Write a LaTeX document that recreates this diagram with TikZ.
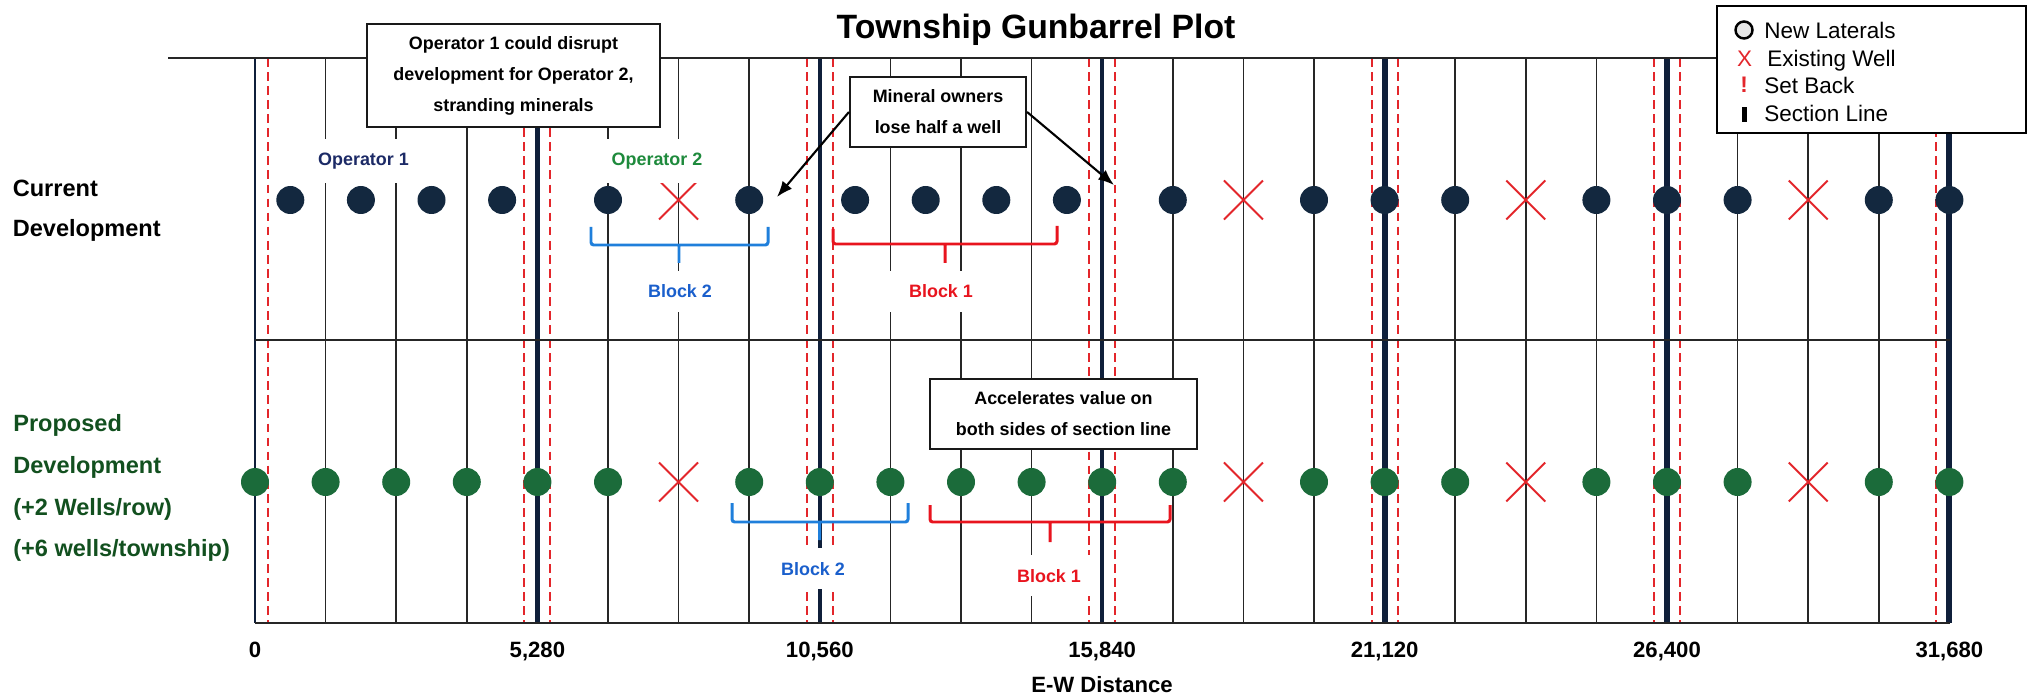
\documentclass[tikz,border=0pt]{standalone}
\usepackage{fontspec}
\setmainfont{Liberation Sans}
\usetikzlibrary{arrows.meta,shapes.misc}

\definecolor{wellnavy}{HTML}{13283F}
\definecolor{wellgreen}{HTML}{1B6B3A}
\definecolor{secnavy}{HTML}{0F1F3A}
\definecolor{setred}{HTML}{E3262B}
\definecolor{opnavy}{HTML}{1C2A66}
\definecolor{opgreen}{HTML}{1E8A3C}
\definecolor{sidegreen}{HTML}{12501F}
\definecolor{blockblue}{HTML}{1F7FDB}
\definecolor{blocktext}{HTML}{1A5FCC}
\definecolor{blockred}{HTML}{E8141E}

\tikzset{
    gridline/.style={draw=black!85, line width=1pt},
    setback/.style={draw=setred, line width=1.1pt, dash pattern=on 5pt off 3pt},
    sectionline/.style={draw=secnavy},
    frameline/.style={draw=black!85, line width=1.3pt},
    curwell/.style={circle, fill=wellnavy, minimum size=0.56cm, inner sep=0pt},
    newwell/.style={circle, fill=wellgreen, minimum size=0.56cm, inner sep=0pt},
    oldwell/.style={cross out, draw=setred, line width=1.1pt, minimum size=0.74cm, inner sep=0pt},
    blockbrace/.style={line width=1.7pt, rounded corners=1.5pt},
    blocktag/.style={anchor=base, fill=white, inner xsep=11pt, inner ysep=8pt, font=\fontsize{10.2}{12}\selectfont\bfseries},
    callout/.style={draw=black!90, line width=1.2pt, fill=white, align=center, inner sep=2pt, font=\fontsize{10.2}{17.6}\selectfont\bfseries},
    sidelabel/.style={anchor=base west, inner sep=0pt, font=\fontsize{13.4}{16}\selectfont\bfseries},
    axislabel/.style={anchor=base, inner sep=0pt, font=\fontsize{12.6}{15}\selectfont\bfseries},
    legendtxt/.style={anchor=base west, inner sep=0pt, font=\fontsize{12.8}{15}\selectfont}
}

\begin{document}
\begin{tikzpicture}[>={Latex[length=9pt,width=7pt]}]
    \useasboundingbox (0,0) rectangle (40.6,-13.92);

    \foreach \i in {0,...,24}
        \draw[gridline] ({5.1+1.412*\i},-1.16) -- ++(0,-11.3);
    \foreach \i in {4,8,...,24}
        \draw[setback] ({5.1+1.412*\i-0.26},-1.16) -- ++(0,-11.3);
    \foreach \i in {0,4,...,20}
        \draw[setback] ({5.1+1.412*\i+0.26},-1.16) -- ++(0,-11.3);
    \foreach \i/\w in {0/1.5pt,4/3pt,8/2pt,12/2pt,16/3.5pt,20/3.5pt,24/3.5pt}
        \draw[sectionline, line width=\w] ({5.1+1.412*\i},-1.16) -- ++(0,-11.3);
    \draw[frameline] (3.36,-1.16) -- (38.99,-1.16);
    \draw[frameline] (5.1,-6.8) -- (38.99,-6.8);
    \draw[frameline] (5.1,-12.46) -- (38.99,-12.46);

    \foreach \p [count=\n] in {0.5,1.5,2.5,3.5,5,7,8.5,9.5,10.5,11.5,13,15,16,17,19,20,21,23,24}
        \node[curwell] (cur\n) at ({5.1+1.412*\p},-4) {};
    \foreach \p [count=\n] in {0,1,2,3,4,5,7,8,9,10,11,12,13,15,16,17,19,20,21,23,24}
        \node[newwell] (new\n) at ({5.1+1.412*\p},-9.64) {};
    \foreach \p in {6,14,18,22} {
        \node[oldwell] (oldc\p) at ({5.1+1.412*\p},-4) {};
        \node[oldwell] (oldp\p) at ({5.1+1.412*\p},-9.64) {};
    }

    \draw[blockbrace, blockblue] (11.82,-4.54) |- (15.36,-4.9) -- (15.36,-4.54) (13.58,-4.9) -- (13.58,-5.26);
    \draw[blockbrace, blockred] (16.66,-4.58) |- (21.14,-4.88) -- (21.14,-4.52) (18.9,-4.88) -- (18.9,-5.26);
    \draw[blockbrace, blockblue] (14.64,-10.06) |- (18.16,-10.44) -- (18.16,-10.06) (16.39,-10.44) -- (16.39,-10.8);
    \draw[blockbrace, blockred] (18.6,-10.1) |- (23.4,-10.44) -- (23.4,-10.1) (21.0,-10.44) -- (21.0,-10.84);

    \node[blocktag, text=opnavy] (op1) at (7.27,-3.31) {Operator 1};
    \node[blocktag, text=opgreen] (op2) at (13.14,-3.31) {Operator 2};
    \node[blocktag, text=blocktext] (blk2c) at (13.6,-5.96) {Block 2};
    \node[blocktag, text=blockred] (blk1c) at (18.82,-5.96) {Block 1};
    \node[blocktag, text=blocktext] (blk2p) at (16.26,-11.5) {Block 2};
    \node[blocktag, text=blockred] (blk1p) at (20.98,-11.64) {Block 1};

    \node[callout, minimum width=5.86cm, minimum height=2.06cm] (disrupt) at (10.27,-1.51) {Operator 1 could disrupt\\development for Operator 2,\\stranding minerals};
    \node[callout, minimum width=3.52cm, minimum height=1.4cm] (mineral) at (18.76,-2.24) {Mineral owners\\lose half a well};
    \node[callout, minimum width=5.34cm, minimum height=1.4cm] (accel) at (21.27,-8.28) {Accelerates value on\\both sides of section line};

    \coordinate (lostL) at (15.54,-3.94);
    \coordinate (lostR) at (22.28,-3.7);
    \draw[->, very thick] (mineral.west) -- (lostL);
    \draw[->, very thick] (mineral.east) -- (lostR);

    \node[anchor=base, font=\fontsize{19.2}{23}\selectfont\bfseries] (title) at (20.72,-0.77) {Township Gunbarrel Plot};

    \node[sidelabel] (curtxt1) at (0.25,-3.94) {Current};
    \node[sidelabel] (curtxt2) at (0.25,-4.74) {Development};
    \node[sidelabel, text=sidegreen] (proptxt1) at (0.26,-8.64) {Proposed};
    \node[sidelabel, text=sidegreen] (proptxt2) at (0.26,-9.47) {Development};
    \node[sidelabel, text=sidegreen] (proptxt3) at (0.26,-10.3) {(+2 Wells/row)};
    \node[sidelabel, text=sidegreen] (proptxt4) at (0.26,-11.13) {(+6 wells/township)};

    \foreach \i/\t in {0/0,4/{5,280},8/{10,560},12/{15,840},16/{21,120},20/{26,400},24/{31,680}}
        \node[axislabel] (ax\i) at ({5.1+1.412*\i},-13.14) {\t};
    \node[axislabel] (ewdist) at (22.04,-13.84) {E-W Distance};

    \node[draw, line width=1.2pt, fill=white, minimum width=6.18cm, minimum height=2.54cm] (legend) at (37.43,-1.39) {};
    \node[circle, draw=black, line width=1.4pt, fill=gray!20, minimum size=0.34cm, inner sep=0pt] (symnew) at (34.88,-0.6) {};
    \node[legendtxt, anchor=base, text=setred] (symold) at (34.89,-1.34) {X};
    \node[legendtxt, anchor=base, text=setred, font=\fontsize{12.8}{15}\selectfont\bfseries] (symset) at (34.88,-1.86) {!};
    \node[fill=black, minimum width=0.1cm, minimum height=0.3cm, inner sep=0pt] (symsec) at (34.88,-2.29) {};
    \node[legendtxt] (txtnew) at (35.28,-0.78) {New Laterals};
    \node[legendtxt] (txtold) at (35.34,-1.34) {Existing Well};
    \node[legendtxt] (txtset) at (35.28,-1.88) {Set Back};
    \node[legendtxt] (txtsec) at (35.28,-2.44) {Section Line};
\end{tikzpicture}
\end{document}
